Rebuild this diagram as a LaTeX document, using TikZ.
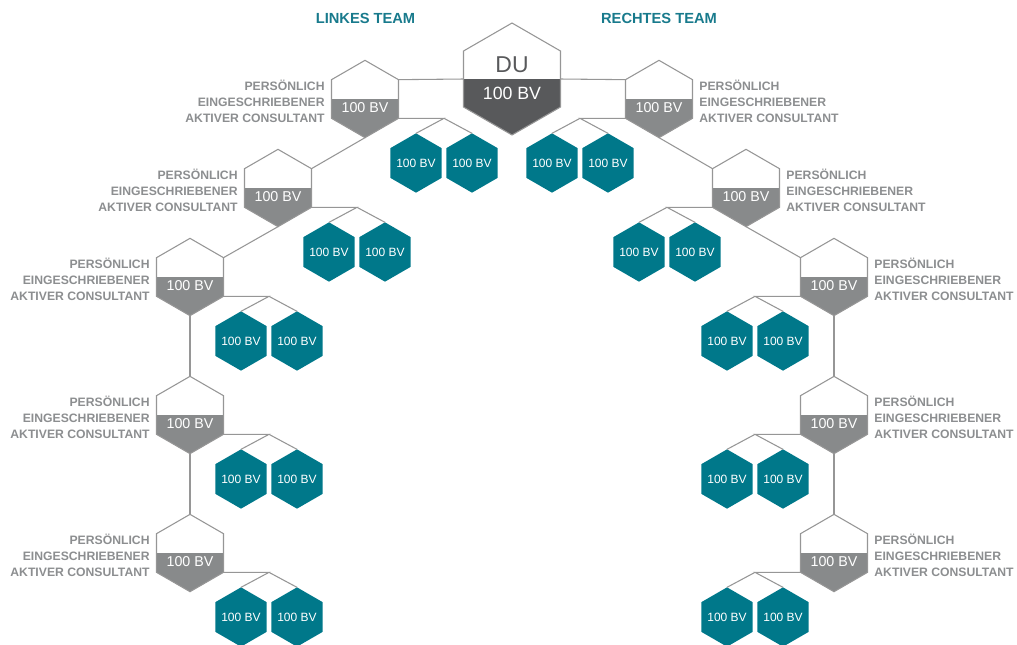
\documentclass[tikz,border=0pt]{standalone}
\usepackage{fontspec}
\setmainfont{Liberation Sans}
\usetikzlibrary{shapes.geometric,calc}
\definecolor{tealc}{RGB}{0,120,138}
\definecolor{hdr}{RGB}{24,122,140}
\definecolor{bandgray}{RGB}{136,138,139}
\definecolor{dugray}{RGB}{88,89,91}
\definecolor{linegray}{RGB}{150,150,150}
\definecolor{txtgray}{RGB}{140,142,144}
\begin{document}
\begin{tikzpicture}[x=0.75pt,y=-0.75pt,
  hexbase/.style={regular polygon, regular polygon sides=6, shape border rotate=30, inner sep=0pt, outer sep=0pt},
  cons/.style={hexbase, minimum size=58pt, draw=linegray, line width=0.8pt, fill=white,
    path picture={\fill[bandgray] (path picture bounding box.west) rectangle (path picture bounding box.south east);}},
  du/.style={hexbase, minimum size=84pt, draw=linegray, line width=0.8pt, fill=white,
    path picture={\fill[dugray] (path picture bounding box.west) rectangle (path picture bounding box.south east);}},
  tealhex/.style={hexbase, minimum size=44.5pt, fill=tealc},
  tealtxt/.style={text=white, font=\fontsize{9}{10}\selectfont, inner sep=0pt},
  conn/.style={draw=linegray, line width=0.8pt},
  bv/.style={text=white, font=\fontsize{10.7}{12}\selectfont, inner sep=0pt},
  lbl/.style={text=txtgray, font=\bfseries\fontsize{9.15}{11.8}\selectfont, inner sep=0pt},
  head/.style={text=hdr, font=\bfseries\fontsize{11}{13}\selectfont, inner sep=0pt}
]
\useasboundingbox (0,0) rectangle (1017,644);
\clip (0,0) rectangle (1017,644);

\node[head] (lt) at (365.5,18) {LINKES TEAM};
\node[head] (rt) at (659,18) {RECHTES TEAM};

\node[du] (DU) at (512,79) {};
\node[text=dugray, font=\fontsize{17.2}{20}\selectfont, inner sep=0pt] (DUt) at ([yshift=10.5pt]DU.center) {DU};
\node[bv, font=\fontsize{13.3}{15}\selectfont] (DUb) at ([yshift=-11pt]DU.center) {100 BV};

\foreach \n/\x/\y in {L1/365/99, L2/278/188, L3/190/277, L4/190/415, L5/190/553} {
  \node[cons] (\n) at (\x,\y) {};
  \node[bv] (\n t) at ([yshift=-6.4pt]\n.center) {100 BV};
  \node[lbl, anchor=east, align=right] (\n l) at ([xshift=-5pt,yshift=-1.9pt]\n.180) {PERSÖNLICH\\EINGESCHRIEBENER\\AKTIVER CONSULTANT};
  \node[tealhex] (\n A) at (\x+51,\y+64) {};
  \node[tealtxt] (\n At) at (\n A.center) {100 BV};
  \node[tealhex] (\n B) at (\x+107,\y+64) {};
  \node[tealtxt] (\n Bt) at (\n B.center) {100 BV};
  \coordinate (\n m) at ($(\n A.90)!.5!(\n B.90)$);
  \draw[conn] (\n.-30) -- (\n m |- \n.-30) -- (\n A.90);
  \draw[conn] (\n m |- \n.-30) -- (\n B.90);
}
\foreach \n/\x/\y in {R1/659/99, R2/746/188, R3/834/277, R4/834/415, R5/834/553} {
  \node[cons] (\n) at (\x,\y) {};
  \node[bv] (\n t) at ([yshift=-6.4pt]\n.center) {100 BV};
  \node[lbl, anchor=west, align=left] (\n l) at ([xshift=5pt,yshift=-1.9pt]\n.0) {PERSÖNLICH\\EINGESCHRIEBENER\\AKTIVER CONSULTANT};
  \node[tealhex] (\n A) at (\x-51,\y+64) {};
  \node[tealtxt] (\n At) at (\n A.center) {100 BV};
  \node[tealhex] (\n B) at (\x-107,\y+64) {};
  \node[tealtxt] (\n Bt) at (\n B.center) {100 BV};
  \coordinate (\n m) at ($(\n A.90)!.5!(\n B.90)$);
  \draw[conn] (\n.210) -- (\n m |- \n.210) -- (\n A.90);
  \draw[conn] (\n m |- \n.210) -- (\n B.90);
}

\draw[conn] (DU.180) -- (L1.30);
\draw[conn] (DU.0) -- (R1.150);
\draw[conn] (L1.270) -- (L2.30);
\draw[conn] (L2.270) -- (L3.30);
\draw[conn] (L3.270) -- (L4.90);
\draw[conn] (L4.270) -- (L5.90);
\draw[conn] (R1.270) -- (R2.150);
\draw[conn] (R2.270) -- (R3.150);
\draw[conn] (R3.270) -- (R4.90);
\draw[conn] (R4.270) -- (R5.90);
\end{tikzpicture}
\end{document}
